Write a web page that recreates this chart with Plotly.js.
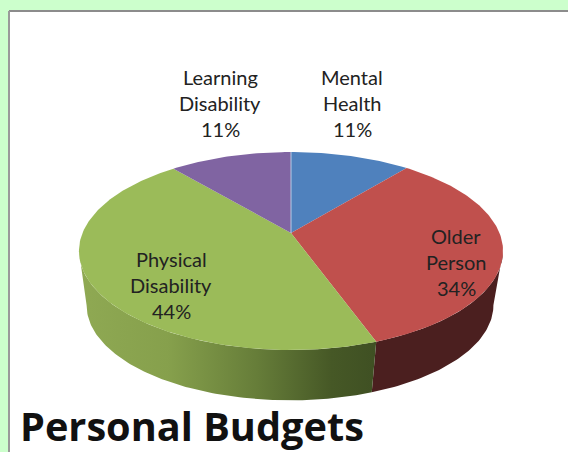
<!DOCTYPE html>
<html>
<head>
<meta charset="utf-8">
<script src="https://cdn.plot.ly/plotly-3.0.1.min.js"></script>
<style>html,body{margin:0;padding:0;background:#ccffcc;overflow:hidden}</style>
</head>
<body>
<div id="chart" style="width:568px;height:452px"></div>
<script>
const categories = ["Mental Health", "Older Person", "Physical Disability", "Learning Disability"];
const values = [10.9, 33.6, 44.4, 11.1];
const percentLabels = ["11%", "34%", "44%", "11%"];
const sliceColors = ["#4f81bd", "#c0504d", "#9bbb59", "#8064a2"];

// projection of the tilted disc (perspective view, axis units equal pixels)
const cx = 291, topApexY = 233, bottomApexX = 290, bottomApexY = 288;
const topB = 208.5, topA = 95.7, botB = 200, botA = 91.9, k = 0.182;
const rad = d => d * Math.PI / 180;
function pt(theta, ax, ay, B, A) {
  const d = 1 + k * Math.cos(rad(theta));
  return [ax + B * Math.sin(rad(theta)) / d, ay - A * Math.cos(rad(theta)) / d];
}
const topPt = t => pt(t, cx, topApexY, topB, topA);
const botPt = t => pt(t, bottomApexX, bottomApexY, botB, botA);
function arc(a, b, f) {
  const n = Math.max(2, Math.ceil(Math.abs(b - a)));
  const out = [];
  for (let i = 0; i <= n; i++) out.push(f(a + (b - a) * i / n));
  return out;
}
const total = values.reduce((s, v) => s + v, 0);
const edges = [0];
values.forEach(v => edges.push(edges[edges.length - 1] + v / total * 360));

const traces = [];
function poly(pts, style) {
  traces.push(Object.assign({
    type: "scatter", mode: "lines", x: pts.map(p => p[0]), y: pts.map(p => p[1]),
    fill: "toself", line: {width: 0}, hoverinfo: "skip", showlegend: false
  }, style));
}
function wall(a, b, style) {
  poly(arc(a, b, topPt).concat(arc(b, a, botPt)), style);
}
const rightTip = 100.5, leftTip = 259.5;
wall(rightTip, edges[2], {fillcolor: "#4b1f1f"});
wall(edges[2], leftTip, {fillcolor: "#3f5023", fillgradient: {type: "horizontal", colorscale: [
  [0, "#8fa953"], [0.3, "#86a04c"], [0.6, "#667d39"], [0.85, "#465826"], [1, "#3f5023"]
]}});
values.forEach((v, i) => {
  const pts = [[cx, topApexY]].concat(arc(edges[i], edges[i + 1], topPt));
  pts.push([cx, topApexY]);
  poly(pts, {fillcolor: sliceColors[i], name: categories[i]});
});
const seam = [[cx, topApexY], topPt(0)];
traces.push({type: "scatter", mode: "lines", x: seam.map(p => p[0]), y: seam.map(p => p[1]),
  line: {width: 1, color: "#b9cde5"}, hoverinfo: "skip", showlegend: false});

const labelAnchors = [[352, 77], [456, 236], [171, 259], [220, 77]];
const lineGap = 26;
const annotations = [];
categories.forEach((c, i) => {
  const lines = c.split(" ").concat(percentLabels[i]);
  lines.forEach((t, j) => annotations.push({
    x: labelAnchors[i][0], y: labelAnchors[i][1] + j * lineGap, xref: "x", yref: "y",
    text: t, showarrow: false, xanchor: "center", yanchor: "middle",
    font: {family: "Lato, sans-serif", size: 20, color: "#222222"}
  }));
});

const layout = {
  width: 568, height: 452,
  margin: {l: 9, r: 0, t: 11, b: 0},
  paper_bgcolor: "#ccffcc", plot_bgcolor: "#ffffff",
  showlegend: false,
  title: {text: "<b>Personal Budgets</b>", x: 20 / 568, xref: "container", xanchor: "left",
    y: 1 - 427 / 452, yref: "container", yanchor: "middle",
    font: {family: "Open Sans, sans-serif", size: 39.7, color: "#111111"}},
  xaxis: {range: [9, 568], visible: false, fixedrange: true},
  yaxis: {range: [452, 11], visible: false, fixedrange: true},
  annotations: annotations,
  shapes: [
    {type: "line", xref: "paper", yref: "paper", x0: 0, x1: 1, y0: 1, y1: 1, line: {color: "#8c8c8c", width: 2}, layer: "above"},
    {type: "line", xref: "paper", yref: "paper", x0: 0, x1: 0, y0: 0, y1: 1, line: {color: "#9a9a9a", width: 2}, layer: "above"}
  ]
};
Plotly.newPlot("chart", traces, layout, {displayModeBar: false, staticPlot: true});
</script>
</body>
</html>
